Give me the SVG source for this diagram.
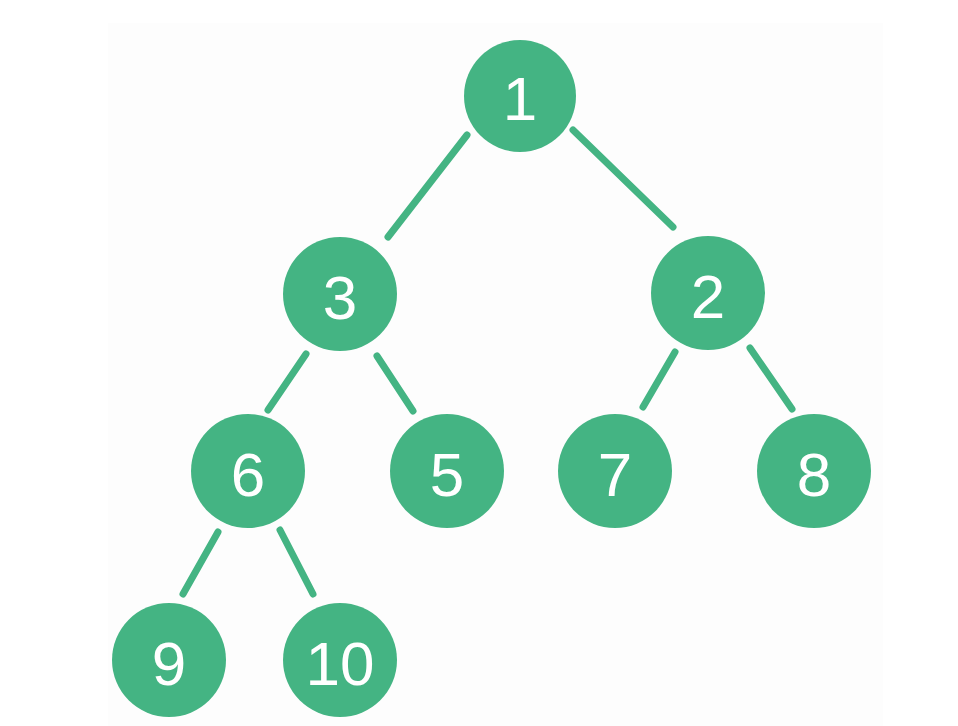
<svg xmlns="http://www.w3.org/2000/svg" width="958" height="726" viewBox="0 0 958 726">
  <style>
    .node circle { fill: #44b483; }
    .node text { fill: #ffffff; font-family: "Liberation Sans", "DejaVu Sans", sans-serif; font-size: 62px; text-anchor: middle; }
    .edges line { stroke: #44b483; stroke-width: 7; stroke-linecap: round; }
  </style>
  <rect x="0" y="0" width="958" height="726" fill="#ffffff"/>
  <rect x="108" y="23" width="775" height="703" fill="#fdfdfd"/>
  <g id="edges" class="edges">
    <line x1="467" y1="135" x2="388" y2="237"/>
    <line x1="573" y1="130" x2="673" y2="227"/>
    <line x1="306" y1="354" x2="268" y2="410"/>
    <line x1="377" y1="356" x2="413" y2="411"/>
    <line x1="675" y1="352" x2="643" y2="407"/>
    <line x1="750" y1="348" x2="792" y2="409"/>
    <line x1="218" y1="532" x2="183" y2="594"/>
    <line x1="280" y1="530" x2="313" y2="594"/>
  </g>
  <g id="node1" class="node"><circle cx="520" cy="96" r="56"/><text x="520" y="120">1</text></g>
  <g id="node3" class="node"><circle cx="340" cy="294" r="57"/><text x="340" y="319">3</text></g>
  <g id="node2" class="node"><circle cx="708" cy="293" r="57"/><text x="708" y="318">2</text></g>
  <g id="node6" class="node"><circle cx="248" cy="471" r="57"/><text x="248" y="496">6</text></g>
  <g id="node5" class="node"><circle cx="447" cy="471" r="57"/><text x="447" y="496">5</text></g>
  <g id="node7" class="node"><circle cx="615" cy="471" r="57"/><text x="615" y="496">7</text></g>
  <g id="node8" class="node"><circle cx="814" cy="471" r="57"/><text x="814" y="496">8</text></g>
  <g id="node9" class="node"><circle cx="169" cy="660" r="57"/><text x="169" y="685">9</text></g>
  <g id="node10" class="node"><circle cx="340" cy="660" r="57"/><text x="340" y="685">10</text></g>
</svg>
